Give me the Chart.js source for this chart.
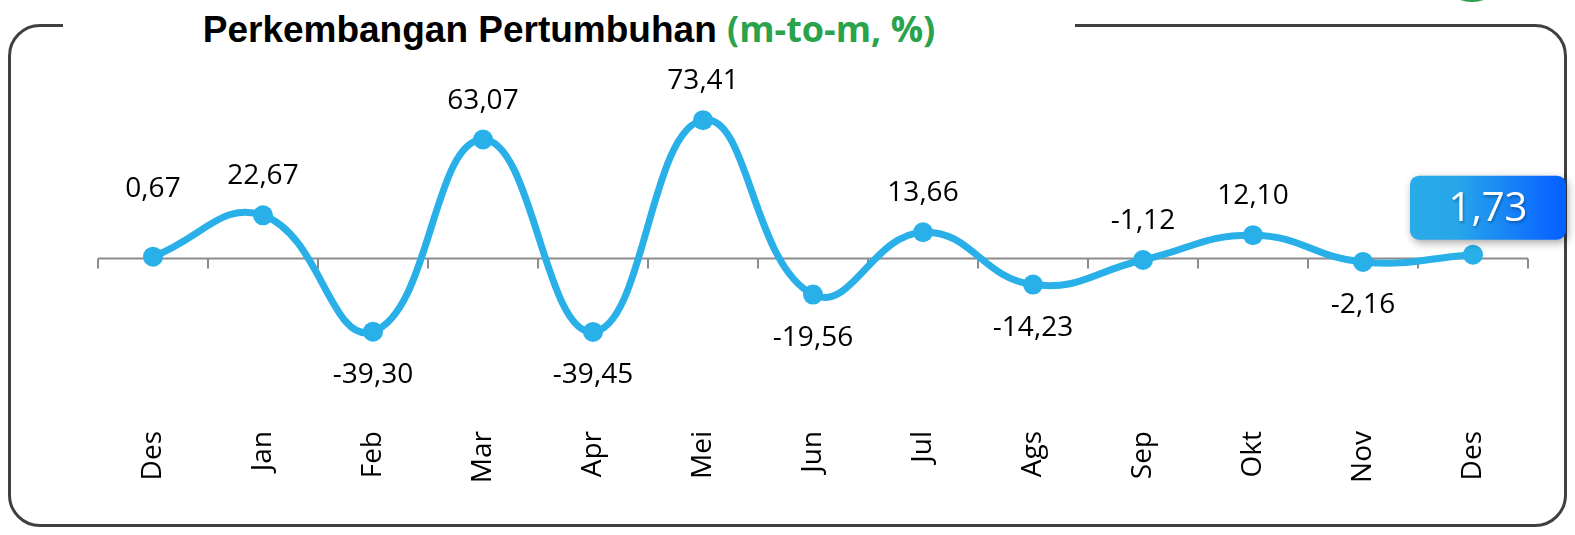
<!DOCTYPE html>
<html lang="id">
<head>
<meta charset="UTF-8">
<title>Perkembangan Pertumbuhan</title>
<script src="https://cdn.jsdelivr.net/npm/chart.js@4"></script>
<style>
    html, body { margin: 0; padding: 0; background: #fff; }
    body { width: 1575px; height: 535px; position: relative; overflow: hidden; }
    .frame {
        position: absolute; left: 8px; top: 24px; width: 1553px; height: 497px;
        border: 3px solid #404040; border-radius: 32px;
    }
    .title {
        position: absolute; left: 63px; top: 4px; width: 1012px; height: 44px;
        background: #fff; text-align: center; line-height: 46px; white-space: nowrap;
    }
    .title .main { font: bold 37px "Liberation Sans", Arial, sans-serif; color: #000; }
    .title .unit { font: bold 36px "Open Sans", sans-serif; color: #2ba24c; }
    .blob {
        position: absolute; left: 1436px; top: -70px; width: 72px; height: 72px;
        border-radius: 50%; background: #2c9d48;
    }
    #viz { position: absolute; left: 0; top: 0; }
</style>
</head>
<body>
<div class="blob"></div>
<div class="frame"></div>
<div class="title"><span class="main">Perkembangan Pertumbuhan </span><span class="unit">(m-to-m, %)</span></div>
<canvas id="viz" width="1575" height="535"></canvas>

<script>
    const months = ['Des', 'Jan', 'Feb', 'Mar', 'Apr', 'Mei', 'Jun', 'Jul', 'Ags', 'Sep', 'Okt', 'Nov', 'Des']
    const growth = [0.67, 22.67, -39.30, 63.07, -39.45, 73.41, -19.56, 13.66, -14.23, -1.12, 12.10, -2.16, 1.73]
    // where each value label sits relative to its point
    const labelSide = ['up', 'up', 'down', 'up', 'down', 'up', 'down', 'up', 'down', 'up', 'up', 'down', 'box']

    const lineColor = '#29b0e8'
    const fmt = v => v.toFixed(2).replace('.', ',')

    // zero line with tick marks at the category edges
    const zeroAxis = {
        id: 'zeroAxis',
        beforeDatasetsDraw(chart) {
            const { ctx, scales: { x, y } } = chart
            const y0 = Math.round(y.getPixelForValue(0)) + 0.5
            ctx.save()
            ctx.strokeStyle = '#8c8c8c'
            ctx.lineWidth = 2
            ctx.beginPath()
            ctx.moveTo(x.left, y0)
            ctx.lineTo(x.right, y0)
            const step = (x.right - x.left) / months.length
            for (let i = 0; i <= months.length; i++) {
                const px = Math.round(x.left + i * step)
                ctx.moveTo(px, y0)
                ctx.lineTo(px, y0 + 10)
            }
            ctx.stroke()
            ctx.restore()
        }
    }

    function roundRect(ctx, x, y, w, h, r) {
        ctx.beginPath()
        ctx.moveTo(x + r, y)
        ctx.arcTo(x + w, y, x + w, y + h, r)
        ctx.arcTo(x + w, y + h, x, y + h, r)
        ctx.arcTo(x, y + h, x, y, r)
        ctx.arcTo(x, y, x + w, y, r)
        ctx.closePath()
    }

    const valueLabels = {
        id: 'valueLabels',
        afterDatasetsDraw(chart) {
            const { ctx } = chart
            const pts = chart.getDatasetMeta(0).data
            ctx.save()
            ctx.textAlign = 'center'
            ctx.textBaseline = 'middle'
            pts.forEach((p, i) => {
                const side = labelSide[i]
                if (side === 'box') {
                    const bx = p.x - 63, by = p.y - 79, bw = 156, bh = 64
                    ctx.save()
                    ctx.shadowColor = 'rgba(0,0,0,0.35)'
                    ctx.shadowBlur = 8
                    ctx.shadowOffsetX = 2
                    ctx.shadowOffsetY = 3
                    const g = ctx.createLinearGradient(bx, 0, bx + bw, 0)
                    g.addColorStop(0, '#2aabe8')
                    g.addColorStop(0.3, '#27a6ea')
                    g.addColorStop(0.9, '#0a68ff')
                    g.addColorStop(1, '#0060ff')
                    ctx.fillStyle = g
                    roundRect(ctx, bx, by, bw, bh, 9)
                    ctx.fill()
                    ctx.restore()
                    ctx.save()
                    ctx.shadowColor = 'rgba(0,0,0,0.3)'
                    ctx.shadowBlur = 3
                    ctx.shadowOffsetX = 1
                    ctx.shadowOffsetY = 2
                    ctx.fillStyle = '#fff'
                    ctx.font = '40px "Open Sans"'
                    ctx.fillText(fmt(growth[i]), bx + 78, by + 34)
                    ctx.restore()
                    return
                }
                let ly = side === 'up' ? p.y - 39 : p.y + 43
                if (i === 0) ly = p.y - 68
                ctx.fillStyle = '#000'
                ctx.font = '28px "Open Sans"'
                ctx.fillText(fmt(growth[i]), p.x, ly)
            })
            ctx.restore()
        }
    }

    Chart.defaults.font.family = '"Open Sans", sans-serif'
    Chart.defaults.color = '#000'

    new Chart(document.getElementById('viz'), {
        type: 'line',
        data: {
            labels: months,
            datasets: [{
                data: growth,
                borderColor: lineColor,
                backgroundColor: lineColor,
                borderWidth: 7,
                tension: 0.45,
                pointRadius: 10,
                pointHoverRadius: 10,
                pointBackgroundColor: lineColor,
                pointBorderWidth: 0,
                clip: false
            }]
        },
        options: {
            responsive: false,
            animation: false,
            events: [],
            layout: { padding: { left: 98, right: 47, top: 89, bottom: 0 } },
            plugins: { legend: { display: false }, tooltip: { enabled: false } },
            scales: {
                x: {
                    offset: true,
                    grid: { display: false, drawTicks: false },
                    border: { display: false },
                    ticks: { minRotation: 90, maxRotation: 90, padding: 23, font: { size: 28 }, color: '#000' },
                    afterFit(s) { s.height = 127 }
                },
                y: {
                    display: false,
                    min: -80,
                    max: 90
                }
            }
        },
        plugins: [zeroAxis, valueLabels]
    })
</script>
</body>
</html>
